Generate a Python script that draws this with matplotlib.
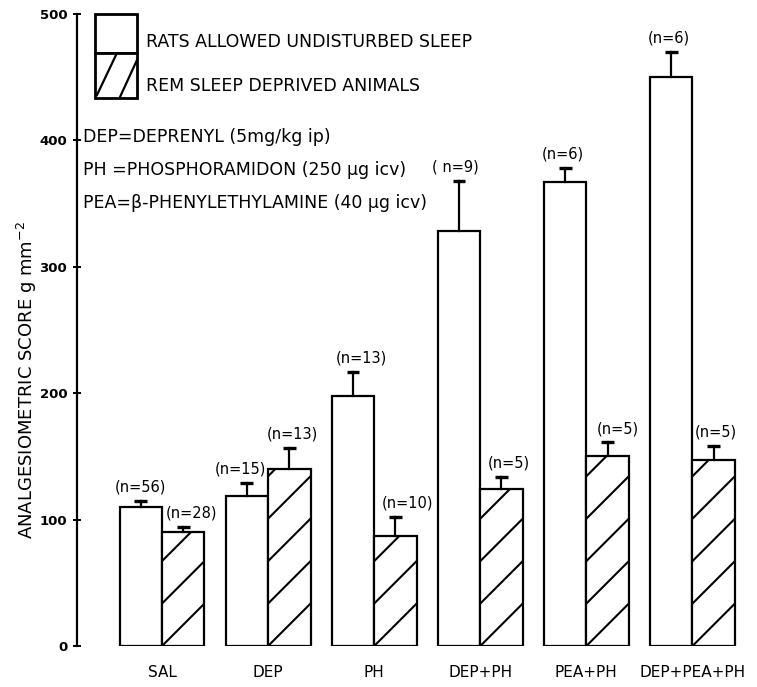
import matplotlib
matplotlib.use("Agg")
import matplotlib.pyplot as plt
from matplotlib.patches import Rectangle
import numpy as np

# Treatment groups
groups = ["SAL", "DEP", "PH", "DEP+PH", "PEA+PH", "DEP+PEA+PH"]

# Rats allowed undisturbed sleep
control_mean = [110, 119, 198, 328, 367, 450]
control_sem = [5, 10, 19, 40, 11, 20]
control_n = ["(n=56)", "(n=15)", "(n=13)", "( n=9)", "(n=6)", "(n=6)"]

# REM sleep deprived animals
rem_mean = [90, 140, 87, 124, 150, 147]
rem_sem = [4, 17, 15, 10, 11, 11]
rem_n = ["(n=28)", "(n=13)", "(n=10)", "(n=5)", "(n=5)", "(n=5)"]

yticks = [0, 100, 200, 300, 400, 500]

# horizontal nudges (pixels) for the group-size labels
control_n_dx = [0, -6, 8, -4, -2, -2]
rem_n_dx = [8, 3, 12, 7, 10, 2]

W, H = 757, 687
fig = plt.figure(figsize=(W / 100, H / 100), dpi=100)
ax = fig.add_axes([77 / W, 41 / H, 670 / W, 632 / H])

xmin, xmax = -0.801, 5.514
ax.set_xlim(xmin, xmax)
ax.set_ylim(0, 500)

bw = 0.4
lw = 1.6
x = np.arange(len(groups))

# pixels per data unit, used to keep the hatch at 45 degrees
px_x = 670 / (xmax - xmin)
px_y = 632 / 500


def hatched_bar(ax, xc, h):
    rect = Rectangle((xc - bw / 2, 0), bw, h, facecolor="white",
                     edgecolor="black", linewidth=lw, zorder=2)
    ax.add_patch(rect)
    step = bw * px_x / px_y  # vertical rise across one bar width
    k = 0
    while k * step < h + step:
        y0 = k * step
        ln, = ax.plot([xc - bw / 2, xc + bw / 2], [y0, y0 + step],
                      color="black", lw=1.5, zorder=3)
        ln.set_clip_path(rect)
        k += 1
    return rect


for i in x:
    ax.add_patch(Rectangle((i - bw, 0), bw, control_mean[i], facecolor="white",
                           edgecolor="black", linewidth=lw, zorder=2))
    hatched_bar(ax, i + bw / 2, rem_mean[i])

# upper-only error bars
cap = 0.06
for xs, m, e in ((x - bw / 2, control_mean, control_sem),
                 (x + bw / 2, rem_mean, rem_sem)):
    for xi, mi, ei in zip(xs, m, e):
        ax.plot([xi, xi], [mi, mi + ei], color="black", lw=1.6, zorder=4)
        ax.plot([xi - cap, xi + cap], [mi + ei, mi + ei], color="black",
                lw=2.4, zorder=4, solid_capstyle="butt")

# group sizes above the error bars
fs_n = 10.5
for i in x:
    ax.text(i - bw / 2 + control_n_dx[i] / px_x,
            control_mean[i] + control_sem[i] + 5, control_n[i],
            ha="center", va="bottom", fontsize=fs_n)
    ax.text(i + bw / 2 + rem_n_dx[i] / px_x,
            rem_mean[i] + rem_sem[i] + 5, rem_n[i],
            ha="center", va="bottom", fontsize=fs_n)

# axes styling
for s in ("top", "right", "bottom"):
    ax.spines[s].set_visible(False)
ax.spines["left"].set_linewidth(1.6)
ax.set_yticks(yticks)
ax.set_yticklabels([str(v) for v in yticks], fontsize=9.5, fontweight="bold")
ax.tick_params(axis="y", direction="inout", length=6, width=1.4, pad=4)
ax.set_xticks(x)
ax.set_xticklabels(groups, fontsize=11)
ax.tick_params(axis="x", length=0, pad=14)

ax.set_ylabel("ANALGESIOMETRIC SCORE g mm$^{-2}$", fontsize=13)
ax.yaxis.set_label_coords((39 - 77) / 670, (646 - 380) / 632)

# legend boxes drawn in axes coordinates
to_ax = lambda px, py: ((px - 77) / 670, (646 - py) / 632)
lx0, ly_top = to_ax(95, 14)
lx1, ly_mid = to_ax(137, 53)
_, ly_bot = to_ax(137, 98)
top_box = Rectangle((lx0, ly_mid), lx1 - lx0, ly_top - ly_mid,
                    transform=ax.transAxes, facecolor="white",
                    edgecolor="black", lw=2, clip_on=False)
ax.add_patch(top_box)
bot_box = Rectangle((lx0, ly_bot), lx1 - lx0, ly_mid - ly_bot,
                    transform=ax.transAxes, facecolor="white",
                    edgecolor="black", lw=2, clip_on=False)
ax.add_patch(bot_box)
for (a, b), (c, d) in (((97, 95), (116, 55)), ((120, 97), (137, 60))):
    (xa, ya), (xb, yb) = to_ax(a, b), to_ax(c, d)
    ax.plot([xa, xb], [ya, yb], transform=ax.transAxes, color="black",
            lw=1.6, clip_on=False)

fs_t = 12.5
tx, ty = to_ax(146, 42)
ax.text(tx, ty, "RATS ALLOWED UNDISTURBED SLEEP", transform=ax.transAxes,
        fontsize=fs_t, va="center")
tx, ty = to_ax(146, 86)
ax.text(tx, ty, "REM SLEEP DEPRIVED ANIMALS", transform=ax.transAxes,
        fontsize=fs_t, va="center")

fs_a = 12.5
for py, s in ((137, "DEP=DEPRENYL (5mg/kg ip)"),
              (170, "PH =PHOSPHORAMIDON (250 \u00b5g icv)"),
              (203, "PEA=\u03b2-PHENYLETHYLAMINE (40 \u00b5g icv)")):
    tx, ty = to_ax(83, py)
    ax.text(tx, ty, s, transform=ax.transAxes, fontsize=fs_a, va="center")

fig.savefig("out.png", dpi=100)
